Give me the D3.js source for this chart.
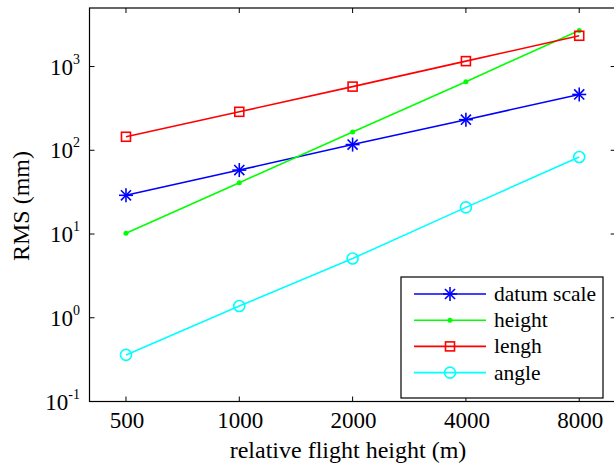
<!DOCTYPE html>
<html>
<head>
<meta charset="utf-8">
<script src="https://cdn.jsdelivr.net/npm/d3@7"></script>
<style>
  body { margin: 0; background: #fff; }
</style>
</head>
<body>
<div id="chart"></div>
<script>
var heights = [500, 1000, 2000, 4000, 8000]
var yTicks = [0.1, 1, 10, 100, 1000]
var yExps = ["-1", "0", "1", "2", "3"]

var datumScale = [29, 58, 117, 232, 464]
var heightErr = [10.2, 41, 165, 660, 2700]
var lengthErr = [145, 288, 576, 1160, 2330]
var angleErr = [0.36, 1.38, 5.1, 20.8, 83]

var seriesNames = ["datum scale", "height", "length", "angle"]
var legendLabels = ["datum scale", "height", "lengh", "angle"]
var seriesColors = ["#0000ff", "#00ff00", "#ff0000", "#00ffff"]
var seriesMarkers = ["star", "dot", "square", "circle"]

var serif = "'Liberation Serif', 'Times New Roman', 'DejaVu Serif', serif"

function rmsChart() {
    var width = 614
    var height = 471
    var left = 89.5, right = 615.7, top = 8, bottom = 401.5

    var series = [datumScale, heightErr, lengthErr, angleErr].map((vals, i) => ({
        name: seriesNames[i],
        label: legendLabels[i],
        color: seriesColors[i],
        marker: seriesMarkers[i],
        values: vals.map((v, j) => ({ x: heights[j], y: v }))
    }))

    var x = d3.scaleLog().domain([400, 10000]).range([left, right])
    var y = d3.scaleLog().domain([0.1, 5000]).range([bottom, top])

    var svg = d3.select("#chart")
        .append("svg")
        .attr("width", width)
        .attr("height", height)
        .attr("font-family", serif)

    // plot area box
    svg.append("rect")
        .attr("x", left).attr("y", top)
        .attr("width", right - left).attr("height", bottom - top)
        .attr("fill", "none")
        .attr("stroke", "#000")
        .attr("stroke-width", 1.2)

    var tickLen = 5

    // x ticks (bottom and top, inward)
    var xt = svg.append("g").attr("stroke", "#000").attr("stroke-width", 1)
    heights.forEach(h => {
        xt.append("line").attr("x1", x(h)).attr("x2", x(h)).attr("y1", bottom).attr("y2", bottom - tickLen)
        xt.append("line").attr("x1", x(h)).attr("x2", x(h)).attr("y1", top).attr("y2", top + tickLen)
    })
    svg.append("g")
        .selectAll("text")
        .data(heights)
        .join("text")
        .attr("x", d => x(d) + 1)
        .attr("y", 428)
        .attr("text-anchor", "middle")
        .attr("font-family", serif)
        .attr("font-size", 23)
        .text(d => d)

    // y ticks (left and right, inward)
    var yt = svg.append("g").attr("stroke", "#000").attr("stroke-width", 1)
    yTicks.forEach(t => {
        yt.append("line").attr("x1", left).attr("x2", left + tickLen).attr("y1", y(t)).attr("y2", y(t))
        yt.append("line").attr("x1", right).attr("x2", right - tickLen).attr("y1", y(t)).attr("y2", y(t))
    })
    var ylab = svg.append("g")
        .selectAll("text")
        .data(yTicks)
        .join("text")
        .attr("x", 80)
        .attr("y", d => y(d) + 8)
        .attr("text-anchor", "end")
        .attr("font-family", serif)
        .attr("font-size", 23)
    ylab.append("tspan").text("10")
    ylab.append("tspan")
        .attr("dy", -11)
        .attr("font-size", 14)
        .text((d, i) => yExps[i])

    // axis labels
    svg.append("text")
        .attr("x", 348)
        .attr("y", 458)
        .attr("text-anchor", "middle")
        .attr("font-family", serif)
        .attr("font-size", 24)
        .text("relative flight height (m)")

    svg.append("text")
        .attr("transform", "translate(29," + 206 + ") rotate(-90)")
        .attr("text-anchor", "middle")
        .attr("font-family", serif)
        .attr("font-size", 24)
        .text("RMS (mm)")

    var line = d3.line().x(d => x(d.x)).y(d => y(d.y))

    var plot = svg.append("g")

    plot.selectAll("path.series")
        .data(series)
        .join("path")
        .attr("class", "series")
        .attr("d", d => line(d.values))
        .attr("fill", "none")
        .attr("stroke", d => d.color)
        .attr("stroke-width", 1.6)

    function drawMarker(g, type, color, cx, cy) {
        if (type === "star") {
            var r = 7
            var m = g.append("g").attr("stroke", color).attr("stroke-width", 1.6)
            m.append("line").attr("x1", cx - r).attr("x2", cx + r).attr("y1", cy).attr("y2", cy)
            m.append("line").attr("x1", cx).attr("x2", cx).attr("y1", cy - r).attr("y2", cy + r)
            var k = r * 0.72
            m.append("line").attr("x1", cx - k).attr("x2", cx + k).attr("y1", cy - k).attr("y2", cy + k)
            m.append("line").attr("x1", cx - k).attr("x2", cx + k).attr("y1", cy + k).attr("y2", cy - k)
        } else if (type === "dot") {
            g.append("circle").attr("cx", cx).attr("cy", cy).attr("r", 2.5).attr("fill", color)
        } else if (type === "square") {
            g.append("rect").attr("x", cx - 4.5).attr("y", cy - 4.5).attr("width", 9).attr("height", 9)
                .attr("fill", "none").attr("stroke", color).attr("stroke-width", 1.6)
        } else if (type === "circle") {
            g.append("circle").attr("cx", cx).attr("cy", cy).attr("r", 5.5)
                .attr("fill", "none").attr("stroke", color).attr("stroke-width", 1.6)
        }
    }

    series.forEach(s => {
        var g = plot.append("g")
        s.values.forEach(p => drawMarker(g, s.marker, s.color, x(p.x), y(p.y)))
    })

    // legend
    var legend = svg.append("g")
    legend.append("rect")
        .attr("x", 401).attr("y", 277)
        .attr("width", 202).attr("height", 121)
        .attr("fill", "#fff")
        .attr("stroke", "#000")
        .attr("stroke-width", 1.2)

    series.forEach((s, i) => {
        var ly = 294 + i * 26.2
        legend.append("line")
            .attr("x1", 414).attr("x2", 486)
            .attr("y1", ly).attr("y2", ly)
            .attr("stroke", s.color)
            .attr("stroke-width", 1.6)
        drawMarker(legend, s.marker, s.color, 450, ly)
        legend.append("text")
            .attr("x", 494)
            .attr("y", ly + 7)
            .attr("font-family", serif)
            .attr("font-size", 21.5)
            .text(s.label)
    })
}
rmsChart()
</script>
</body>
</html>
